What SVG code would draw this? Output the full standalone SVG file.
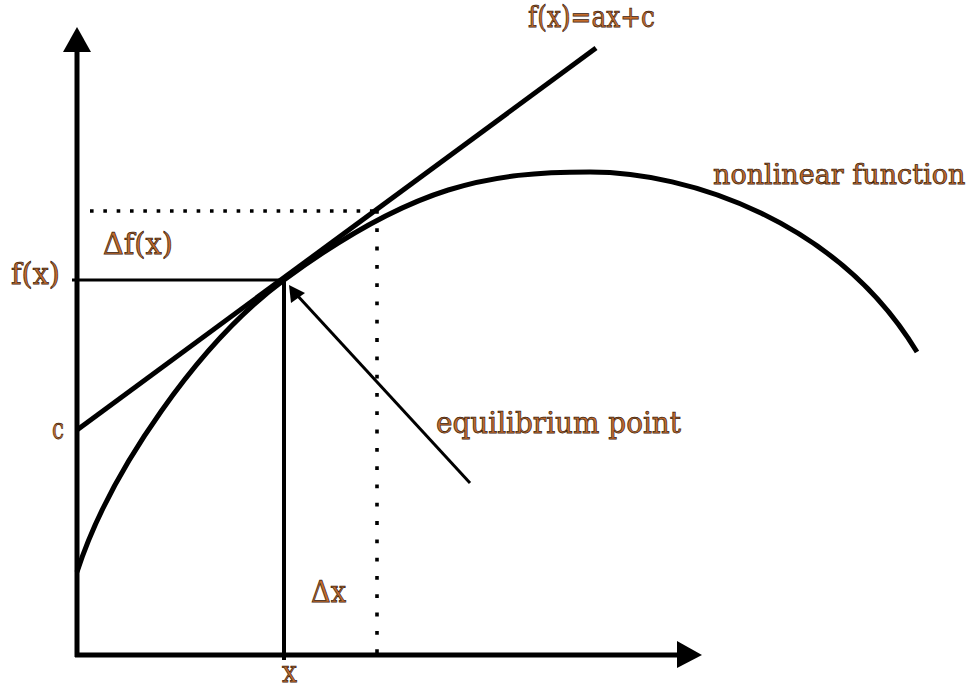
<svg xmlns="http://www.w3.org/2000/svg" width="979" height="690" viewBox="0 0 979 690">
<style>
.lbl{font-family:"DejaVu Serif","Liberation Serif",serif;font-size:30px;fill:#c46c2c;stroke:#3a2210;stroke-width:0.75px}
.thick{stroke:#000;stroke-width:5;fill:none}
.dot{stroke:#000;fill:none;stroke-width:3.6}
</style>
<rect width="979" height="690" fill="#fff"/>
<g id="axes">
<line class="thick" x1="77" y1="50" x2="77" y2="657"/>
<polygon points="77,27 63,52 91,52" fill="#000"/>
<line class="thick" x1="75" y1="655" x2="679" y2="655"/>
<polygon points="702,655 677,641 677,668" fill="#000"/>
</g>
<g id="guides">
<line class="dot" x1="90" y1="211" x2="376" y2="211" stroke-dasharray="3.6 9.73"/>
<line class="dot" x1="377" y1="210" x2="377" y2="656" stroke-dasharray="3.8 14.5"/>
<line stroke="#000" stroke-width="3" x1="72" y1="280" x2="285" y2="280"/>
<line stroke="#000" stroke-width="4" x1="284" y1="278" x2="284" y2="660"/>
</g>
<g id="curve">
<path class="thick" d="M77,572 C110,470 200,342 284,280 C414,184 490,172 590,172 C690,172 838,222 917,352"/>
</g>
<g id="tangent">
<line class="thick" x1="77" y1="430" x2="596" y2="48"/>
</g>
<g id="connectors">
<line stroke="#000" stroke-width="3" x1="470" y1="483" x2="296" y2="294"/>
<polygon points="289,285 291,303 305,293" fill="#000"/>
</g>
<g id="labels">
<text class="lbl" x="528" y="27" textLength="127" lengthAdjust="spacingAndGlyphs">f(x)=ax+c</text>
<text class="lbl" x="713" y="184" style="font-size:27px">nonlinear function</text>
<text class="lbl" x="103" y="254" textLength="70" lengthAdjust="spacingAndGlyphs">Δf(x)</text>
<text class="lbl" x="11" y="284" textLength="49" lengthAdjust="spacingAndGlyphs">f(x)</text>
<text class="lbl" x="52" y="439" textLength="12" lengthAdjust="spacingAndGlyphs">c</text>
<text class="lbl" x="436" y="433" textLength="245" lengthAdjust="spacingAndGlyphs">equilibrium point</text>
<text class="lbl" x="311" y="602" textLength="35" lengthAdjust="spacingAndGlyphs">Δx</text>
<text class="lbl" x="282" y="682" textLength="15" lengthAdjust="spacingAndGlyphs">x</text>
</g>
</svg>
